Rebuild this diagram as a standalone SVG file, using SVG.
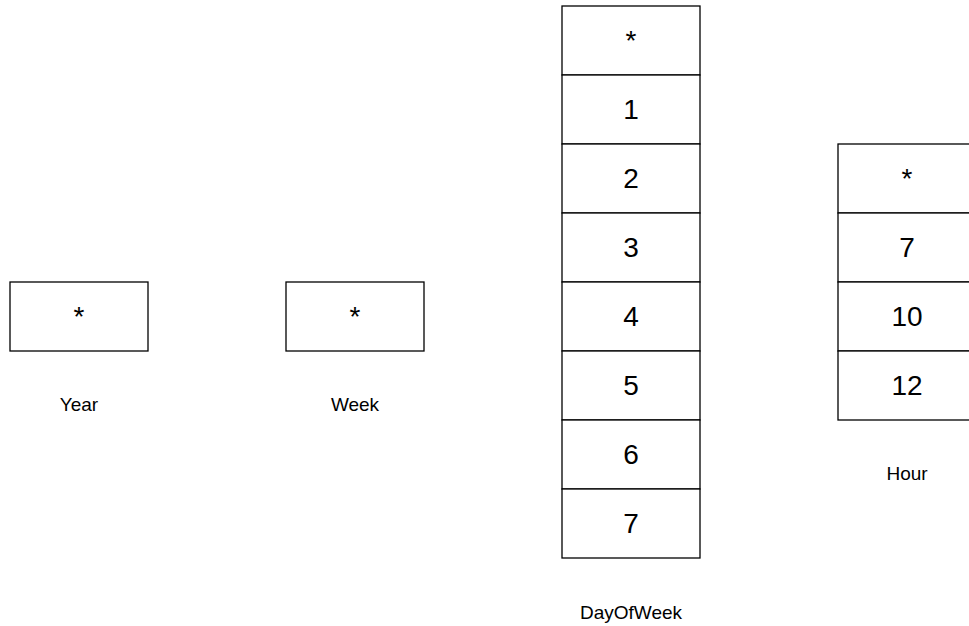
<svg xmlns="http://www.w3.org/2000/svg" width="969" height="626" viewBox="0 0 969 626">
  <style>
    .cell { fill: #ffffff; stroke: #000000; stroke-width: 1.3; }
    .t { font-family: "Liberation Sans", Arial, sans-serif; fill: #000000; text-anchor: middle; dominant-baseline: central; }
    .v { font-size: 28px; }
    .lbl { font-size: 19px; }
  </style>
  <rect width="969" height="626" fill="#ffffff"/>

  <!-- Year: single wildcard cell -->
  <g id="year">
    <rect class="cell" x="10" y="282" width="138" height="69"/>
    <text class="t v" x="79" y="316.5">*</text>
    <text class="t lbl" x="79" y="404">Year</text>
  </g>

  <!-- Week: single wildcard cell -->
  <g id="week">
    <rect class="cell" x="286" y="282" width="138" height="69"/>
    <text class="t v" x="355" y="316.5">*</text>
    <text class="t lbl" x="355" y="404">Week</text>
  </g>

  <!-- DayOfWeek: wildcard plus days 1..7 -->
  <g id="dayofweek">
    <rect class="cell" x="562" y="6" width="138" height="69"/>
    <text class="t v" x="631" y="40.5">*</text>
    <rect class="cell" x="562" y="75" width="138" height="69"/>
    <text class="t v" x="631" y="109.5">1</text>
    <rect class="cell" x="562" y="144" width="138" height="69"/>
    <text class="t v" x="631" y="178.5">2</text>
    <rect class="cell" x="562" y="213" width="138" height="69"/>
    <text class="t v" x="631" y="247.5">3</text>
    <rect class="cell" x="562" y="282" width="138" height="69"/>
    <text class="t v" x="631" y="316.5">4</text>
    <rect class="cell" x="562" y="351" width="138" height="69"/>
    <text class="t v" x="631" y="385.5">5</text>
    <rect class="cell" x="562" y="420" width="138" height="69"/>
    <text class="t v" x="631" y="454.5">6</text>
    <rect class="cell" x="562" y="489" width="138" height="69"/>
    <text class="t v" x="631" y="523.5">7</text>
    <text class="t lbl" x="631" y="612">DayOfWeek</text>
  </g>

  <!-- Hour: wildcard plus 7, 10, 12 -->
  <g id="hour">
    <rect class="cell" x="838" y="144" width="138" height="69"/>
    <text class="t v" x="907" y="178.5">*</text>
    <rect class="cell" x="838" y="213" width="138" height="69"/>
    <text class="t v" x="907" y="247.5">7</text>
    <rect class="cell" x="838" y="282" width="138" height="69"/>
    <text class="t v" x="907" y="316.5">10</text>
    <rect class="cell" x="838" y="351" width="138" height="69"/>
    <text class="t v" x="907" y="385.5">12</text>
    <text class="t lbl" x="907" y="473">Hour</text>
  </g>

  <g id="connectors"/>
</svg>
